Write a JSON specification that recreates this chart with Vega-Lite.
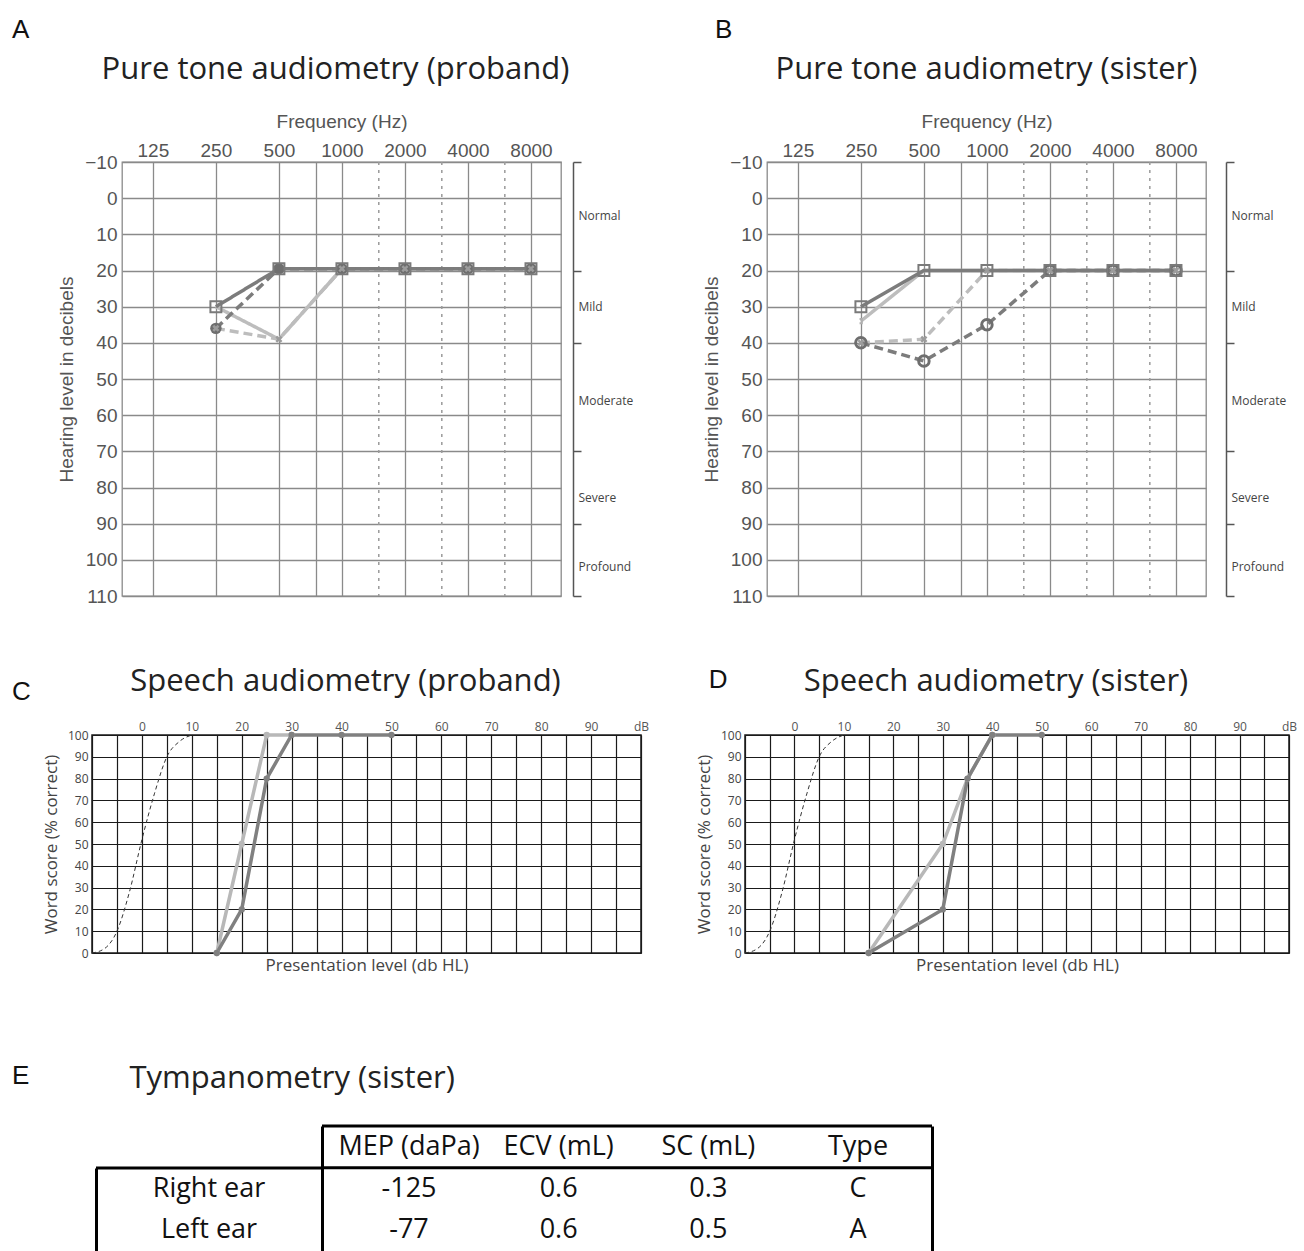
{
  "$schema": "https://vega.github.io/schema/vega-lite/v6.json",
  "padding": {"left": 12, "top": 17, "right": 0, "bottom": 0},
  "background": "white",
  "config": {
    "font": "Open Sans",
    "view": {"stroke": null},
    "title": {"font": "Open Sans", "fontWeight": "normal", "color": "#222"}
  },
  "resolve": {"scale": {"color": "independent", "strokeDash": "independent"}},
  "datasets": {
    "audA": [
      {"ear": "Left bone", "freq": 250, "hl": 30}, {"ear": "Left bone", "freq": 500, "hl": 39}, {"ear": "Left bone", "freq": 1000, "hl": 19.5}, {"ear": "Left bone", "freq": 2000, "hl": 19.5}, {"ear": "Left bone", "freq": 4000, "hl": 19.5}, {"ear": "Left bone", "freq": 8000, "hl": 19.5},
      {"ear": "Left air", "freq": 250, "hl": 36}, {"ear": "Left air", "freq": 500, "hl": 39}, {"ear": "Left air", "freq": 1000, "hl": 19.5}, {"ear": "Left air", "freq": 2000, "hl": 19.5}, {"ear": "Left air", "freq": 4000, "hl": 19.5}, {"ear": "Left air", "freq": 8000, "hl": 19.5},
      {"ear": "Right bone", "freq": 250, "hl": 30}, {"ear": "Right bone", "freq": 500, "hl": 19.5}, {"ear": "Right bone", "freq": 1000, "hl": 19.5}, {"ear": "Right bone", "freq": 2000, "hl": 19.5}, {"ear": "Right bone", "freq": 4000, "hl": 19.5}, {"ear": "Right bone", "freq": 8000, "hl": 19.5},
      {"ear": "Right air", "freq": 250, "hl": 36}, {"ear": "Right air", "freq": 500, "hl": 19.5}, {"ear": "Right air", "freq": 1000, "hl": 19.5}, {"ear": "Right air", "freq": 2000, "hl": 19.5}, {"ear": "Right air", "freq": 4000, "hl": 19.5}, {"ear": "Right air", "freq": 8000, "hl": 19.5}
    ],
    "audB": [
      {"ear": "Left bone", "freq": 250, "hl": 34}, {"ear": "Left bone", "freq": 500, "hl": 20}, {"ear": "Left bone", "freq": 1000, "hl": 20}, {"ear": "Left bone", "freq": 2000, "hl": 20}, {"ear": "Left bone", "freq": 4000, "hl": 20}, {"ear": "Left bone", "freq": 8000, "hl": 20},
      {"ear": "Left air", "freq": 250, "hl": 40}, {"ear": "Left air", "freq": 500, "hl": 39}, {"ear": "Left air", "freq": 1000, "hl": 20}, {"ear": "Left air", "freq": 2000, "hl": 20}, {"ear": "Left air", "freq": 4000, "hl": 20}, {"ear": "Left air", "freq": 8000, "hl": 20},
      {"ear": "Right bone", "freq": 250, "hl": 30}, {"ear": "Right bone", "freq": 500, "hl": 20}, {"ear": "Right bone", "freq": 1000, "hl": 20}, {"ear": "Right bone", "freq": 2000, "hl": 20}, {"ear": "Right bone", "freq": 4000, "hl": 20}, {"ear": "Right bone", "freq": 8000, "hl": 20},
      {"ear": "Right air", "freq": 250, "hl": 40}, {"ear": "Right air", "freq": 500, "hl": 45}, {"ear": "Right air", "freq": 1000, "hl": 35}, {"ear": "Right air", "freq": 2000, "hl": 20}, {"ear": "Right air", "freq": 4000, "hl": 20}, {"ear": "Right air", "freq": 8000, "hl": 20}
    ],
    "dotted": [{"freq": 1500}, {"freq": 3000}, {"freq": 6000}],
    "bands": [
      {"label": "Normal", "mid": 5}, {"label": "Mild", "mid": 30}, {"label": "Moderate", "mid": 56}, {"label": "Severe", "mid": 83}, {"label": "Profound", "mid": 102}
    ],
    "normal": [
      {"level": -10, "score": 0}, {"level": -7.5, "score": 2}, {"level": -5, "score": 10}, {"level": -2.5, "score": 28}, {"level": 0, "score": 52}, {"level": 2.5, "score": 73}, {"level": 5, "score": 90}, {"level": 7.5, "score": 97}, {"level": 10, "score": 100}
    ],
    "speechC": [
      {"ear": "Left ear", "level": 15, "score": 0}, {"ear": "Left ear", "level": 20, "score": 50}, {"ear": "Left ear", "level": 25, "score": 100}, {"ear": "Left ear", "level": 30, "score": 100},
      {"ear": "Right ear", "level": 15, "score": 0}, {"ear": "Right ear", "level": 20, "score": 20}, {"ear": "Right ear", "level": 25, "score": 80}, {"ear": "Right ear", "level": 30, "score": 100}, {"ear": "Right ear", "level": 40, "score": 100}, {"ear": "Right ear", "level": 50, "score": 100}
    ],
    "speechD": [
      {"ear": "Left ear", "level": 15, "score": 0}, {"ear": "Left ear", "level": 30, "score": 50}, {"ear": "Left ear", "level": 35, "score": 80}, {"ear": "Left ear", "level": 40, "score": 100},
      {"ear": "Right ear", "level": 15, "score": 0}, {"ear": "Right ear", "level": 30, "score": 20}, {"ear": "Right ear", "level": 35, "score": 80}, {"ear": "Right ear", "level": 40, "score": 100}, {"ear": "Right ear", "level": 50, "score": 100}
    ],
    "tymp": [
      {"row": "header", "col": "MEP (daPa)", "value": "MEP (daPa)"}, {"row": "header", "col": "ECV (mL)", "value": "ECV (mL)"}, {"row": "header", "col": "SC (mL)", "value": "SC (mL)"}, {"row": "header", "col": "Type", "value": "Type"},
      {"row": "Right ear", "col": "MEP (daPa)", "value": "-125"}, {"row": "Right ear", "col": "ECV (mL)", "value": "0.6"}, {"row": "Right ear", "col": "SC (mL)", "value": "0.3"}, {"row": "Right ear", "col": "Type", "value": "C"},
      {"row": "Left ear", "col": "MEP (daPa)", "value": "-77"}, {"row": "Left ear", "col": "ECV (mL)", "value": "0.6"}, {"row": "Left ear", "col": "SC (mL)", "value": "0.5"}, {"row": "Left ear", "col": "Type", "value": "A"}
    ],
    "rowLabels": [{"row": "Right ear"}, {"row": "Left ear"}],
    "tableLines": [{"row": "header"}, {"row": "Right ear"}],
    "none": []
  },
  "columns": 1,
  "align": "none",
  "spacing": 58,
  "concat": [
    {
      "spacing": 27,
      "hconcat": [
        {
          "width": 18, "height": 1,
          "title": {"text": "A", "anchor": "start", "frame": "group", "offset": 119, "font": "Liberation Sans", "fontSize": 26, "color": "#111"},
          "data": {"name": "none"},
          "mark": "text"
        },
        {
          "spacing": 68,
          "hconcat": [
            {
              "spacing": 1,
              "hconcat": [
                {
                  "width": 439, "height": 434,
                  "view": {"stroke": "#8a8a8a", "strokeWidth": 1.3},
                  "title": {"text": "Pure tone audiometry (proband)", "frame": "group", "anchor": "middle", "dx": -6, "fontSize": 31, "offset": 26},
                  "encoding": {
                    "x": {"field": "freq", "type": "quantitative", "scale": {"type": "log", "base": 2, "domain": [89, 11130], "nice": false},
                      "axis": {"orient": "top", "values": [125, 250, 500, 750, 1000, 2000, 4000, 8000], "tickCount": 20, "labelExpr": "datum.value == 750 ? '' : format(datum.value, 'd')", "title": "Frequency (Hz)", "titleFont": "Liberation Sans", "titleFontSize": 19, "titleFontWeight": "normal", "titleColor": "#555", "titlePadding": 10, "labelFont": "Liberation Sans", "labelFontSize": 19, "labelColor": "#555", "labelPadding": 2, "ticks": false, "domain": false, "grid": true, "gridColor": "#8a8a8a", "gridWidth": 1.3, "labelOverlap": false, "labelFlush": false}}
                  },
                  "layer": [
                    {"data": {"name": "dotted"}, "mark": {"type": "rule", "strokeDash": [3, 5], "color": "#9a9a9a", "strokeWidth": 1.5}},
                    {"data": {"name": "audA"}, "mark": {"type": "line", "strokeWidth": 3.5},
                      "encoding": {
                        "y": {"field": "hl", "type": "quantitative", "scale": {"domain": [-10, 110], "reverse": true, "nice": false, "zero": false},
                          "axis": {"values": [-10, 0, 10, 20, 30, 40, 50, 60, 70, 80, 90, 100, 110], "tickCount": 20, "title": "Hearing level in decibels", "titleFont": "Liberation Sans", "titleFontSize": 19, "titleFontWeight": "normal", "titleColor": "#555", "titlePadding": 8, "labelFont": "Liberation Sans", "labelFontSize": 19, "labelColor": "#555", "labelPadding": 5, "labelOverlap": false, "labelFlush": false, "ticks": false, "domain": false, "grid": true, "gridColor": "#8a8a8a", "gridWidth": 1.3}},
                        "color": {"field": "ear", "type": "nominal", "scale": {"domain": ["Left bone", "Left air", "Right bone", "Right air"], "range": ["#bdbdbd", "#bdbdbd", "#7c7c7c", "#7c7c7c"]}, "legend": null},
                        "strokeDash": {"field": "ear", "type": "nominal", "scale": {"domain": ["Left bone", "Left air", "Right bone", "Right air"], "range": [[1, 0], [9, 5], [1, 0], [9, 5]]}, "legend": null}
                      }},
                    {"data": {"name": "audA"}, "transform": [{"filter": "datum.ear == 'Right air'"}], "mark": {"type": "point", "shape": "circle", "filled": true, "color": "#6e6e6e", "size": 130, "opacity": 1},
                      "encoding": {"y": {"field": "hl", "type": "quantitative"}}},
                    {"data": {"name": "audA"}, "transform": [{"filter": "datum.ear == 'Right bone'"}], "mark": {"type": "point", "shape": "square", "filled": false, "color": "#7a7a7a", "strokeWidth": 2, "size": 120, "opacity": 1},
                      "encoding": {"y": {"field": "hl", "type": "quantitative"}}},
                    {"data": {"name": "audA"}, "transform": [{"filter": "datum.ear == 'Left air'"}], "mark": {"type": "point", "shape": "M-0.5,-0.5L0.5,0.5M-0.5,0.5L0.5,-0.5", "filled": false, "color": "#9c9c9c", "strokeWidth": 2.5, "size": 110, "opacity": 1},
                      "encoding": {"y": {"field": "hl", "type": "quantitative"}}}
                  ]
                },
                {
                  "width": 1, "height": 434,
                  "data": {"name": "bands"},
                  "mark": {"type": "text", "align": "left", "baseline": "middle", "dx": 6, "font": "Open Sans", "fontSize": 12, "color": "#444"},
                  "encoding": {
                    "y": {"field": "mid", "type": "quantitative", "scale": {"domain": [-10, 110], "reverse": true, "nice": false, "zero": false},
                      "axis": {"orient": "right", "values": [-10, 20, 40, 70, 90, 110], "tickCount": 20, "labels": false, "title": null, "grid": false, "domain": true, "domainColor": "#555", "domainWidth": 1.5, "ticks": true, "tickColor": "#555", "tickWidth": 1.5, "tickSize": 8}},
                    "text": {"field": "label"}
                  }
                }
              ]
            },
            {
              "title": {"text": "B", "anchor": "start", "frame": "bounds", "dx": 13, "offset": 10, "font": "Liberation Sans", "fontSize": 26, "color": "#111"},
              "spacing": 18,
              "hconcat": [
                {
                  "width": 439, "height": 434,
                  "view": {"stroke": "#8a8a8a", "strokeWidth": 1.3},
                  "title": {"text": "Pure tone audiometry (sister)", "frame": "group", "anchor": "middle", "fontSize": 31, "offset": 26},
                  "encoding": {
                    "x": {"field": "freq", "type": "quantitative", "scale": {"type": "log", "base": 2, "domain": [89, 11130], "nice": false},
                      "axis": {"orient": "top", "values": [125, 250, 500, 750, 1000, 2000, 4000, 8000], "tickCount": 20, "labelExpr": "datum.value == 750 ? '' : format(datum.value, 'd')", "title": "Frequency (Hz)", "titleFont": "Liberation Sans", "titleFontSize": 19, "titleFontWeight": "normal", "titleColor": "#555", "titlePadding": 10, "labelFont": "Liberation Sans", "labelFontSize": 19, "labelColor": "#555", "labelPadding": 2, "ticks": false, "domain": false, "grid": true, "gridColor": "#8a8a8a", "gridWidth": 1.3, "labelOverlap": false, "labelFlush": false}}
                  },
                  "layer": [
                    {"data": {"name": "dotted"}, "mark": {"type": "rule", "strokeDash": [3, 5], "color": "#9a9a9a", "strokeWidth": 1.5}},
                    {"data": {"name": "audB"}, "mark": {"type": "line", "strokeWidth": 3.5},
                      "encoding": {
                        "y": {"field": "hl", "type": "quantitative", "scale": {"domain": [-10, 110], "reverse": true, "nice": false, "zero": false},
                          "axis": {"values": [-10, 0, 10, 20, 30, 40, 50, 60, 70, 80, 90, 100, 110], "tickCount": 20, "title": "Hearing level in decibels", "titleFont": "Liberation Sans", "titleFontSize": 19, "titleFontWeight": "normal", "titleColor": "#555", "titlePadding": 8, "labelFont": "Liberation Sans", "labelFontSize": 19, "labelColor": "#555", "labelPadding": 5, "labelOverlap": false, "labelFlush": false, "ticks": false, "domain": false, "grid": true, "gridColor": "#8a8a8a", "gridWidth": 1.3}},
                        "color": {"field": "ear", "type": "nominal", "scale": {"domain": ["Left bone", "Left air", "Right bone", "Right air"], "range": ["#bdbdbd", "#bdbdbd", "#7c7c7c", "#7c7c7c"]}, "legend": null},
                        "strokeDash": {"field": "ear", "type": "nominal", "scale": {"domain": ["Left bone", "Left air", "Right bone", "Right air"], "range": [[1, 0], [9, 5], [1, 0], [9, 5]]}, "legend": null}
                      }},
                    {"data": {"name": "audB"}, "transform": [{"filter": "datum.ear == 'Left bone' && datum.freq == 250"}], "mark": {"type": "point", "shape": "M-0.3,-0.5L0.2,-0.5L0.2,0.5L-0.3,0.5", "filled": false, "color": "#b0b0b0", "strokeWidth": 2, "size": 80, "opacity": 1},
                      "encoding": {"y": {"field": "hl", "type": "quantitative"}}},
                    {"data": {"name": "audB"}, "transform": [{"filter": "datum.ear == 'Right air'"}], "mark": {"type": "point", "shape": "circle", "filled": false, "color": "#6e6e6e", "strokeWidth": 3, "size": 110, "opacity": 1},
                      "encoding": {"y": {"field": "hl", "type": "quantitative"}}},
                    {"data": {"name": "audB"}, "transform": [{"filter": "datum.ear == 'Right bone'"}], "mark": {"type": "point", "shape": "square", "filled": false, "color": "#7a7a7a", "strokeWidth": 2, "size": 120, "opacity": 1},
                      "encoding": {"y": {"field": "hl", "type": "quantitative"}}},
                    {"data": {"name": "audB"}, "transform": [{"filter": "datum.ear == 'Left air'"}], "mark": {"type": "point", "shape": "M-0.5,-0.5L0.5,0.5M-0.5,0.5L0.5,-0.5", "filled": false, "color": "#9c9c9c", "strokeWidth": 2.5, "size": 110, "opacity": 1},
                      "encoding": {"y": {"field": "hl", "type": "quantitative"}}}
                  ]
                },
                {
                  "width": 1, "height": 434,
                  "data": {"name": "bands"},
                  "mark": {"type": "text", "align": "left", "baseline": "middle", "dx": 6, "font": "Open Sans", "fontSize": 12, "color": "#444"},
                  "encoding": {
                    "y": {"field": "mid", "type": "quantitative", "scale": {"domain": [-10, 110], "reverse": true, "nice": false, "zero": false},
                      "axis": {"orient": "right", "values": [-10, 20, 40, 70, 90, 110], "tickCount": 20, "labels": false, "title": null, "grid": false, "domain": true, "domainColor": "#555", "domainWidth": 1.5, "ticks": true, "tickColor": "#555", "tickWidth": 1.5, "tickSize": 8}},
                    "text": {"field": "label"}
                  }
                }
              ]
            }
          ]
        }
      ]
    },
    {
      "columns": 1,
      "align": "none",
      "spacing": 88,
      "concat": [
        {
          "spacing": 10,
          "hconcat": [
            {
              "width": 18, "height": 1,
              "title": {"text": "C", "anchor": "start", "frame": "group", "offset": 30, "font": "Liberation Sans", "fontSize": 26, "color": "#111"},
              "data": {"name": "none"},
              "mark": "text"
            },
            {
              "spacing": 44,
              "hconcat": [
                {
                  "width": 549, "height": 218,
                  "view": {"stroke": "#1a1a1a", "strokeWidth": 1.5},
                  "title": {"text": "Speech audiometry (proband)", "frame": "bounds", "anchor": "middle", "fontSize": 31, "offset": 22},
                  "resolve": {"axis": {"x": "independent"}},
                  "layer": [
                    {"data": {"name": "normal"}, "mark": {"type": "line", "color": "#333", "strokeWidth": 1, "strokeDash": [4, 3], "interpolate": "monotone"},
                      "encoding": {
                        "x": {"field": "level", "type": "quantitative", "scale": {"domain": [-10, 100], "nice": false, "zero": false},
                          "axis": {"orient": "top", "values": [-10, -5, 0, 5, 10, 15, 20, 25, 30, 35, 40, 45, 50, 55, 60, 65, 70, 75, 80, 85, 90, 95, 100], "tickCount": 40, "labelExpr": "datum.value == 100 ? 'dB' : (datum.value >= 0 && datum.value % 10 == 0 ? datum.label : '')", "title": null, "labelFont": "Open Sans", "labelFontSize": 12, "labelColor": "#555", "labelPadding": 2, "ticks": false, "domain": false, "grid": true, "gridColor": "#1a1a1a", "gridWidth": 1.2, "labelOverlap": false, "labelFlush": false}},
                        "y": {"field": "score", "type": "quantitative", "scale": {"domain": [0, 100], "nice": false},
                          "axis": {"values": [0, 10, 20, 30, 40, 50, 60, 70, 80, 90, 100], "tickCount": 20, "title": "Word score (% correct)", "titleFont": "Open Sans", "titleFontSize": 17, "titleFontWeight": "normal", "titleColor": "#444", "titlePadding": 7, "labelFont": "Open Sans", "labelFontSize": 12, "labelColor": "#444", "labelPadding": 4, "labelOverlap": false, "labelFlush": false, "ticks": false, "domain": false, "grid": true, "gridColor": "#1a1a1a", "gridWidth": 1.2}}
                      }},
                    {"data": {"name": "speechC"}, "mark": {"type": "line", "strokeWidth": 3.5},
                      "encoding": {
                        "x": {"field": "level", "type": "quantitative", "axis": {"orient": "bottom", "title": "Presentation level (db HL)", "labels": false, "ticks": false, "domain": false, "grid": false, "titleFont": "Open Sans", "titleFontSize": 17, "titleFontWeight": "normal", "titleColor": "#444", "titlePadding": 4}},
                        "y": {"field": "score", "type": "quantitative"},
                        "color": {"field": "ear", "type": "nominal", "scale": {"domain": ["Left ear", "Right ear"], "range": ["#b8b8b8", "#808080"]}, "legend": null}
                      }},
                    {"data": {"name": "speechC"}, "mark": {"type": "circle", "size": 40, "opacity": 1},
                      "encoding": {
                        "x": {"field": "level", "type": "quantitative", "axis": null},
                        "y": {"field": "score", "type": "quantitative"},
                        "color": {"field": "ear", "type": "nominal", "scale": {"domain": ["Left ear", "Right ear"], "range": ["#b8b8b8", "#808080"]}, "legend": null}
                      }}
                  ]
                },
                {
                  "title": {"text": "D", "anchor": "start", "frame": "bounds", "dx": 14, "offset": -28, "font": "Liberation Sans", "fontSize": 26, "color": "#111"},
                  "vconcat": [
                    {
                      "width": 544, "height": 218,
                      "view": {"stroke": "#1a1a1a", "strokeWidth": 1.5},
                      "title": {"text": "Speech audiometry (sister)", "frame": "bounds", "anchor": "middle", "fontSize": 31, "offset": 22},
                      "resolve": {"axis": {"x": "independent"}},
                      "layer": [
                        {"data": {"name": "normal"}, "mark": {"type": "line", "color": "#333", "strokeWidth": 1, "strokeDash": [4, 3], "interpolate": "monotone"},
                          "encoding": {
                            "x": {"field": "level", "type": "quantitative", "scale": {"domain": [-10, 100], "nice": false, "zero": false},
                              "axis": {"orient": "top", "values": [-10, -5, 0, 5, 10, 15, 20, 25, 30, 35, 40, 45, 50, 55, 60, 65, 70, 75, 80, 85, 90, 95, 100], "tickCount": 40, "labelExpr": "datum.value == 100 ? 'dB' : (datum.value >= 0 && datum.value % 10 == 0 ? datum.label : '')", "title": null, "labelFont": "Open Sans", "labelFontSize": 12, "labelColor": "#555", "labelPadding": 2, "ticks": false, "domain": false, "grid": true, "gridColor": "#1a1a1a", "gridWidth": 1.2, "labelOverlap": false, "labelFlush": false}},
                            "y": {"field": "score", "type": "quantitative", "scale": {"domain": [0, 100], "nice": false},
                              "axis": {"values": [0, 10, 20, 30, 40, 50, 60, 70, 80, 90, 100], "tickCount": 20, "title": "Word score (% correct)", "titleFont": "Open Sans", "titleFontSize": 17, "titleFontWeight": "normal", "titleColor": "#444", "titlePadding": 7, "labelFont": "Open Sans", "labelFontSize": 12, "labelColor": "#444", "labelPadding": 4, "labelOverlap": false, "labelFlush": false, "ticks": false, "domain": false, "grid": true, "gridColor": "#1a1a1a", "gridWidth": 1.2}}
                          }},
                        {"data": {"name": "speechD"}, "mark": {"type": "line", "strokeWidth": 3.5},
                          "encoding": {
                            "x": {"field": "level", "type": "quantitative", "axis": {"orient": "bottom", "title": "Presentation level (db HL)", "labels": false, "ticks": false, "domain": false, "grid": false, "titleFont": "Open Sans", "titleFontSize": 17, "titleFontWeight": "normal", "titleColor": "#444", "titlePadding": 4}},
                            "y": {"field": "score", "type": "quantitative"},
                            "color": {"field": "ear", "type": "nominal", "scale": {"domain": ["Left ear", "Right ear"], "range": ["#b8b8b8", "#808080"]}, "legend": null}
                          }},
                        {"data": {"name": "speechD"}, "mark": {"type": "circle", "size": 40, "opacity": 1},
                          "encoding": {
                            "x": {"field": "level", "type": "quantitative", "axis": null},
                            "y": {"field": "score", "type": "quantitative"},
                            "color": {"field": "ear", "type": "nominal", "scale": {"domain": ["Left ear", "Right ear"], "range": ["#b8b8b8", "#808080"]}, "legend": null}
                          }}
                      ]
                    }
                  ]
                }
              ]
            }
          ]
        },
        {
          "spacing": 64,
          "hconcat": [
            {
              "width": 18, "height": 1,
              "title": {"text": "E", "anchor": "start", "frame": "group", "offset": 37, "font": "Liberation Sans", "fontSize": 26, "color": "#111"},
              "data": {"name": "none"},
              "mark": "text"
            },
            {
              "title": {"text": "Tympanometry (sister)", "anchor": "start", "frame": "bounds", "dx": 35, "fontSize": 31, "offset": 30},
              "spacing": 0,
              "bounds": "flush",
              "hconcat": [
                {
                  "width": 226, "height": 125,
                  "layer": [
                    {"data": {"name": "rowLabels"}, "mark": {"type": "text", "font": "Open Sans", "fontSize": 27, "color": "#111"},
                      "encoding": {
                        "y": {"field": "row", "type": "nominal", "scale": {"type": "band", "domain": ["Right ear", "Left ear"], "range": [42, 125], "paddingInner": 0, "paddingOuter": 0},
                          "axis": {"orient": "left", "labels": false, "ticks": false, "title": null, "grid": false, "domain": true, "domainColor": "#000", "domainWidth": 3}},
                        "text": {"field": "row"}
                      }},
                    {"data": {"name": "rowLabels"}, "transform": [{"filter": "datum.row == 'Right ear'"}], "mark": {"type": "rule", "color": "#000", "strokeWidth": 3},
                      "encoding": {"y": {"field": "row", "type": "nominal", "bandPosition": 0}}}
                  ]
                },
                {
                  "width": 610, "height": 125,
                  "resolve": {"axis": {"y": "independent"}},
                  "layer": [
                    {"data": {"name": "tymp"}, "mark": {"type": "text", "font": "Open Sans", "fontSize": 27, "color": "#111"},
                      "encoding": {
                        "x": {"field": "col", "type": "nominal", "scale": {"type": "point", "domain": ["MEP (daPa)", "ECV (mL)", "SC (mL)", "Type"], "range": [87, 536], "padding": 0}, "axis": null},
                        "y": {"field": "row", "type": "nominal", "scale": {"type": "band", "domain": ["header", "Right ear", "Left ear"], "paddingInner": 0, "paddingOuter": 0},
                          "axis": {"orient": "left", "labels": false, "ticks": false, "title": null, "grid": false, "domain": true, "domainColor": "#000", "domainWidth": 3}},
                        "text": {"field": "value"}
                      }},
                    {"data": {"name": "tableLines"}, "mark": {"type": "rule", "color": "#000", "strokeWidth": 3},
                      "encoding": {"y": {"field": "row", "type": "nominal", "bandPosition": 0,
                        "axis": {"orient": "right", "labels": false, "ticks": false, "title": null, "grid": false, "domain": true, "domainColor": "#000", "domainWidth": 3}}}}
                  ]
                }
              ]
            }
          ]
        }
      ]
    }
  ]
}
